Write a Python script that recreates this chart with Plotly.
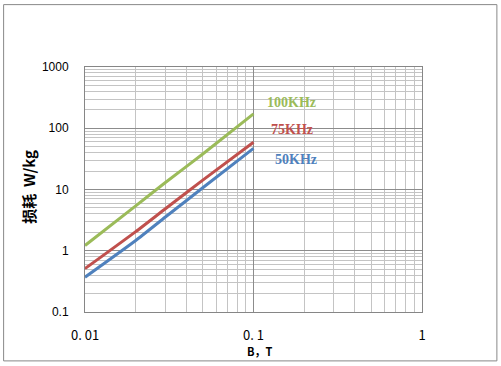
import plotly.graph_objects as go

B = [0.01, 0.02, 0.03, 0.05, 0.1]
loss_100k = [1.22, 5.4, 13.0, 38, 172]
loss_75k = [0.51, 2.05, 4.85, 14.2, 59]
loss_50k = [0.37, 1.47, 3.55, 10.7, 47]
series_names = ["100KHz", "75KHz", "50KHz"]
x_tickvals = [0.01, 0.1, 1]
x_ticktext = ["0. 01", "0. 1", "1"]
y_tickvals = [0.1, 1, 10, 100, 1000]
y_ticktext = ["0.1", "1", "10", "100", "1000"]

colors = ["#9BBB59", "#C0504D", "#4F81BD"]

fig = go.Figure()
for name, vals, c in zip(series_names, [loss_100k, loss_75k, loss_50k], colors):
    fig.add_trace(go.Scatter(x=B, y=vals, mode="lines", name=name,
                             line=dict(color=c, width=3, shape="spline", smoothing=0.5)))

minor_x = [m * 10 ** e for e in (-2, -1) for m in range(2, 10)]
minor_y = [m * 10 ** e for e in (-1, 0, 1, 2) for m in range(2, 10)]

fig.update_xaxes(type="log", range=[-2, 0], tickmode="array",
                 tickvals=x_tickvals, ticktext=x_ticktext,
                 showgrid=True, gridcolor="#8C8C8C", gridwidth=1,
                 showline=True, linecolor="#868686", mirror=True,
                 ticks="", ticklabelstandoff=11,
                 tickfont=dict(family="Noto Sans CJK SC", size=13, color="#000"),
                 minor=dict(tickmode="array", tickvals=minor_x, showgrid=True,
                            gridcolor="#C4C4C4", gridwidth=1, ticks=""),
                 zeroline=False)
fig.update_yaxes(type="log", range=[-1, 3], tickmode="array",
                 tickvals=y_tickvals, ticktext=y_ticktext,
                 showgrid=True, gridcolor="#8C8C8C", gridwidth=1,
                 showline=True, linecolor="#868686", mirror=True,
                 ticks="", ticklabelstandoff=13,
                 tickfont=dict(family="Liberation Sans", size=12, color="#000"),
                 minor=dict(tickmode="array", tickvals=minor_y, showgrid=True,
                            gridcolor="#C4C4C4", gridwidth=1, ticks=""),
                 zeroline=False)

annots = [
    dict(text="<b>100KHz</b>", x=0.613, y=0.855, color=colors[0]),
    dict(text="<b>75KHz</b>", x=0.613, y=0.744, color=colors[1]),
    dict(text="<b>50KHz</b>", x=0.625, y=0.621, color=colors[2]),
]
for a in annots:
    fig.add_annotation(text=a["text"], x=a["x"], y=a["y"], xref="paper", yref="paper",
                       showarrow=False, xanchor="center", yanchor="middle",
                       font=dict(family="Liberation Serif", size=14, color=a["color"]))

fig.add_annotation(text="<b>B，T</b>", x=0.519, y=-0.161, xref="paper", yref="paper",
                   showarrow=False, xanchor="center", yanchor="middle",
                   font=dict(family="Noto Sans CJK SC", size=11, color="#000"))
fig.add_annotation(text="<b>损耗  W/kg</b>", x=-0.166, y=0.511, xref="paper", yref="paper",
                   showarrow=False, xanchor="center", yanchor="middle", textangle=-90,
                   font=dict(family="Noto Sans CJK SC", size=15, color="#000"))

fig.add_shape(type="rect", xref="paper", yref="paper",
              x0=-0.2415, x1=1.2222, y0=-0.1996, y1=1.2546,
              line=dict(color="#888888", width=1), layer="below")

fig.update_layout(width=501, height=366, showlegend=False,
                  margin=dict(l=85, r=78.5, t=67, b=53.5),
                  plot_bgcolor="white", paper_bgcolor="white")

fig.write_html("out.html", config={"displayModeBar": False},
               post_script="document.body.style.margin='0';")
